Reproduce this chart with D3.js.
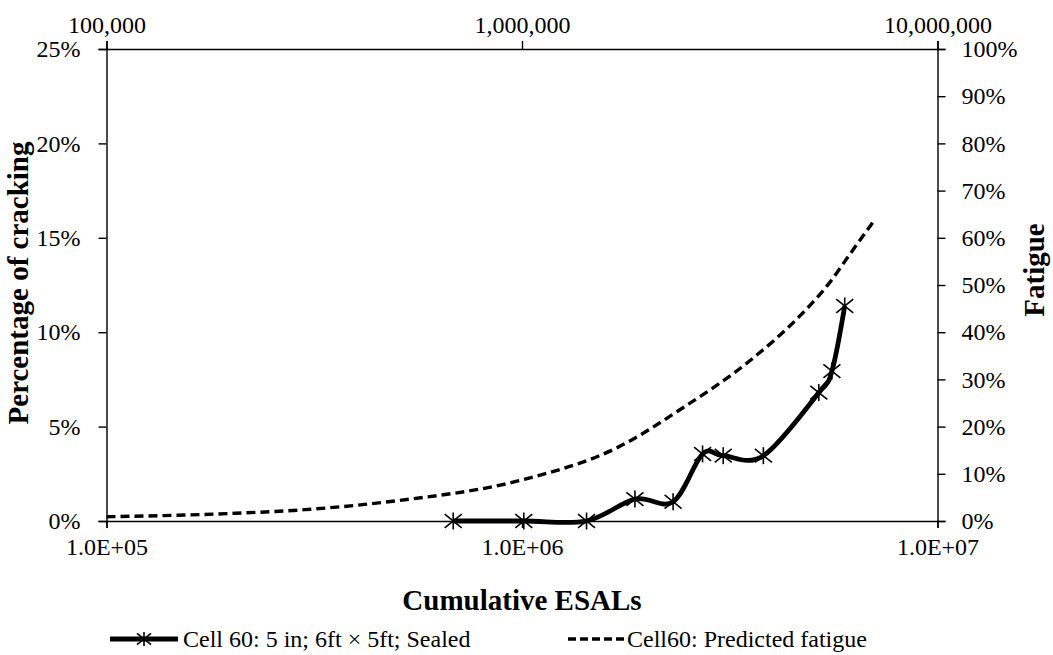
<!DOCTYPE html>
<html>
<head>
<meta charset="utf-8">
<script src="https://cdn.jsdelivr.net/npm/d3@7"></script>
<style>
  html, body { margin: 0; padding: 0; background: #fff; }
  svg { display: block; }
  text { font-family: "Liberation Serif", serif; fill: #000; }
</style>
</head>
<body>
<script>
// Cumulative ESALs axis (log) ticks
const bottomTicks = [1e5, 1e6, 1e7];
const bottomTickLabels = ["1.0E+05", "1.0E+06", "1.0E+07"];
const topTickLabels = ["100,000", "1,000,000", "10,000,000"];

// Left axis: percentage of cracking (fraction), right axis: fatigue (fraction)
const leftTicks = [0, 0.05, 0.10, 0.15, 0.20, 0.25];
const rightTicks = [0, 0.1, 0.2, 0.3, 0.4, 0.5, 0.6, 0.7, 0.8, 0.9, 1.0];

// Cell 60 observed cracking
const crackESALs = [683000, 1010000, 1430000, 1870000, 2310000, 2720000, 3050000, 3810000, 5180000, 5570000, 5980000];
const crackPct   = [0, 0, 0, 0.0116, 0.0102, 0.0355, 0.0346, 0.0346, 0.068, 0.0794, 0.1139];

// Cell 60 predicted fatigue
const fatigueESALs = [1e5, 2e5, 3e5, 5e5, 1e6, 1.7e6, 2.44e6, 3.54e6, 4.67e6, 5.5e6, 6.15e6, 7.03e6];
const fatiguePct   = [0.009, 0.016, 0.024, 0.043, 0.087, 0.156, 0.240, 0.340, 0.435, 0.505, 0.565, 0.636];

const seriesNames = ["Cell 60: 5 in; 6ft \u00d7 5ft; Sealed", "Cell60: Predicted fatigue"];

const W = 1053, H = 655;
const plot = { left: 106.5, right: 937.5, top: 49, bottom: 521 };
const FONT = "'Liberation Serif', serif";

const svg = d3.select("body").append("svg").attr("width", W).attr("height", H);
svg.append("rect").attr("width", W).attr("height", H).attr("fill", "#fff");

const x = d3.scaleLog().domain([1e5, 1e7]).range([plot.left, plot.right]);
const yL = d3.scaleLinear().domain([0, 0.25]).range([plot.bottom, plot.top]);
const yR = d3.scaleLinear().domain([0, 1]).range([plot.bottom, plot.top]);

const fontSize = 24;
const titleSize = 29;
const pctFmt = d3.format(".0%");

function styleAxis(g) {
  g.selectAll("path.domain").attr("stroke", "#000").attr("stroke-width", 1.4);
  g.selectAll(".tick line").attr("stroke", "#000").attr("stroke-width", 1.4);
  g.selectAll("text").attr("font-size", fontSize)
    .attr("font-family", FONT).attr("fill", "#000");
}

// Bottom axis
svg.append("g").attr("transform", `translate(0,${plot.bottom})`)
  .call(d3.axisBottom(x).tickValues(bottomTicks)
    .tickFormat((d, i) => bottomTickLabels[i]).tickSizeOuter(0).tickSize(7).tickPadding(10))
  .call(styleAxis);

// Top axis
svg.append("g").attr("transform", `translate(0,${plot.top})`)
  .call(d3.axisTop(x).tickValues(bottomTicks)
    .tickFormat((d, i) => topTickLabels[i]).tickSizeOuter(0).tickSize(8).tickPadding(8))
  .call(styleAxis);

// Left axis
svg.append("g").attr("transform", `translate(${plot.left},0)`)
  .call(d3.axisLeft(yL).tickValues(leftTicks).tickFormat(pctFmt)
    .tickSizeOuter(0).tickSize(8).tickPadding(18))
  .call(styleAxis);

// Right axis
svg.append("g").attr("transform", `translate(${plot.right},0)`)
  .call(d3.axisRight(yR).tickValues(rightTicks).tickFormat(pctFmt)
    .tickSizeOuter(0).tickSize(8).tickPadding(16))
  .call(styleAxis);

// Predicted fatigue (dashed)
const fatigueData = fatigueESALs.map((v, i) => [v, fatiguePct[i]]);
svg.append("path")
  .datum(fatigueData)
  .attr("fill", "none").attr("stroke", "#000").attr("stroke-width", 3.4)
  .attr("stroke-dasharray", "9,5")
  .attr("d", d3.line().x(d => x(d[0])).y(d => yR(d[1])).curve(d3.curveMonotoneX));

// Observed cracking (smoothed line with star markers)
const crackData = crackESALs.map((v, i) => [v, crackPct[i]]);
svg.append("path")
  .datum(crackData)
  .attr("fill", "none").attr("stroke", "#000").attr("stroke-width", 4.8)
  .attr("stroke-linejoin", "round")
  .attr("d", d3.line().x(d => x(d[0])).y(d => yL(d[1])).curve(d3.curveCardinal.tension(0)));

function star(g, r) {
  g.append("line").attr("x1", 0).attr("y1", -r).attr("x2", 0).attr("y2", r);
  g.append("line").attr("x1", -r).attr("y1", -r * 0.8).attr("x2", r).attr("y2", r * 0.8);
  g.append("line").attr("x1", -r).attr("y1", r * 0.8).attr("x2", r).attr("y2", -r * 0.8);
  g.selectAll("line").attr("stroke", "#000").attr("stroke-width", 1.6);
}

svg.append("g").selectAll("g.mark")
  .data(crackData).join("g")
  .attr("class", "mark")
  .attr("transform", d => `translate(${x(d[0])},${yL(d[1])})`)
  .each(function () { star(d3.select(this), 8.5); });

// Axis titles
svg.append("text")
  .attr("transform", `translate(28,283) rotate(-90)`)
  .attr("text-anchor", "middle").attr("font-weight", "bold").attr("font-size", titleSize)
  .attr("font-family", FONT)
  .text("Percentage of cracking");

svg.append("text")
  .attr("transform", `translate(1044,270) rotate(-90)`)
  .attr("text-anchor", "middle").attr("font-weight", "bold").attr("font-size", titleSize)
  .attr("font-family", FONT)
  .text("Fatigue");

svg.append("text")
  .attr("x", (plot.left + plot.right) / 2).attr("y", 610)
  .attr("text-anchor", "middle").attr("font-weight", "bold").attr("font-size", titleSize)
  .attr("font-family", FONT)
  .text("Cumulative ESALs");

// Legend
const legY = 639;
const leg1 = svg.append("g");
leg1.append("line").attr("x1", 110).attr("x2", 178).attr("y1", legY).attr("y2", legY)
  .attr("stroke", "#000").attr("stroke-width", 4.8);
const lm = leg1.append("g").attr("transform", `translate(144,${legY})`);
star(lm, 7);
leg1.append("text").attr("x", 183).attr("y", legY + 8).attr("font-size", fontSize)
  .attr("font-family", FONT)
  .text(seriesNames[0]);

const leg2 = svg.append("g");
leg2.append("line").attr("x1", 568).attr("x2", 624).attr("y1", legY).attr("y2", legY)
  .attr("stroke", "#000").attr("stroke-width", 3.4).attr("stroke-dasharray", "8,4");
leg2.append("text").attr("x", 627).attr("y", legY + 8).attr("font-size", fontSize)
  .attr("font-family", FONT)
  .text(seriesNames[1]);
</script>
</body>
</html>
